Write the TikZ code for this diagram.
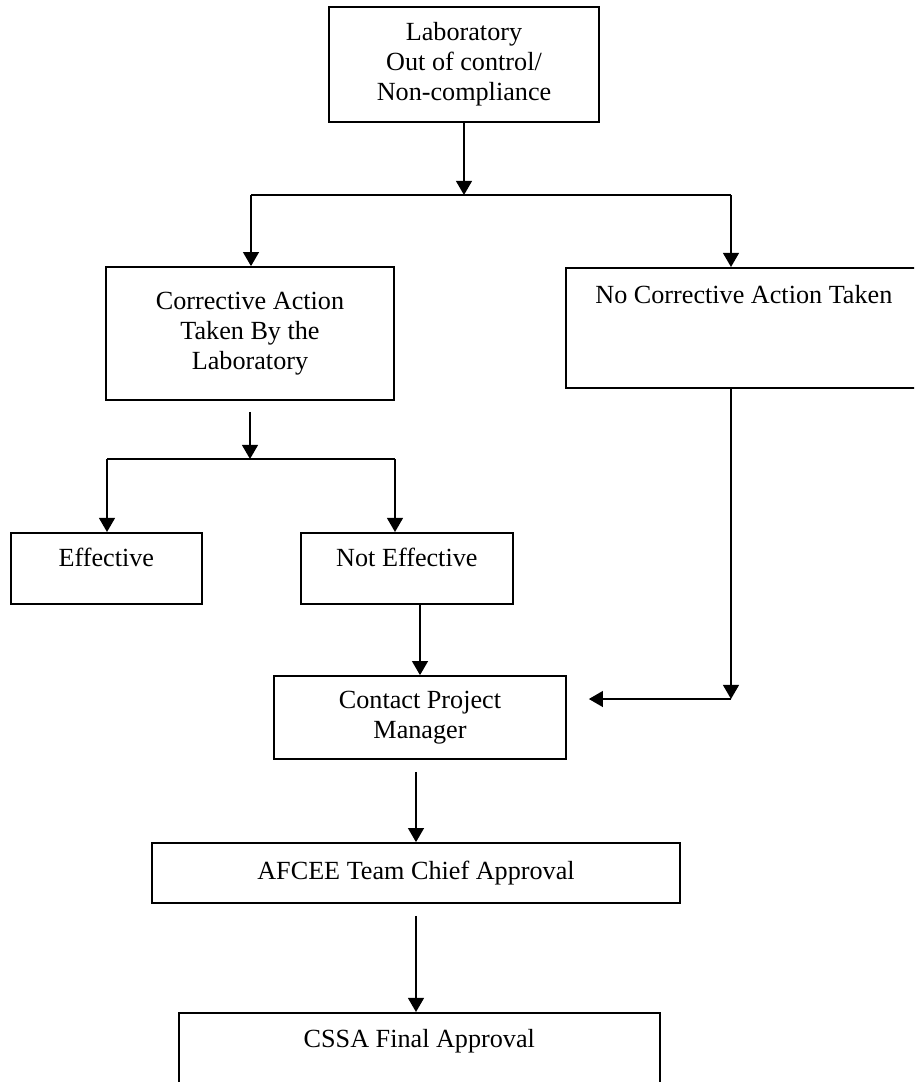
\documentclass[tikz,border=0pt]{standalone}
\usepackage{fontspec}
\setmainfont{Liberation Serif}
\usepackage{tikz}
\usetikzlibrary{positioning}
\usetikzlibrary{arrows.meta}

\begin{document}
\begin{tikzpicture}[
  x=0.02cm, y=-0.02cm,
  stepbox/.style={rectangle, draw, line width=1pt, align=center, inner sep=0pt, font=\fontsize{14.9}{17}\selectfont},
  topbox/.style={stepbox, anchor=north west, minimum height=0pt},
  arr/.style={-{Triangle[length=8pt, width=9pt]}, line width=1pt}
]
\useasboundingbox (0,0) rectangle (914,1082);
\clip (0,0) rectangle (914,1082);

% Boxes
\node[stepbox, minimum width=5.4cm, minimum height=2.3cm] (lab) at (464,64.5) {Laboratory\\Out of control/\\Non-compliance};

\node[stepbox, minimum width=5.76cm, minimum height=2.66cm] (corr) at (250,333.5) {Corrective Action\\Taken By the\\Laboratory};

\node[topbox, minimum width=7.12cm, text height=0.72cm, text depth=1.68cm] (nocorr) at (565,267) {No Corrective Action Taken};

\node[topbox, minimum width=3.82cm, text height=0.68cm, text depth=0.74cm] (eff) at (10,532) {Effective};

\node[topbox, minimum width=4.24cm, text height=0.68cm, text depth=0.74cm] (neff) at (300,532) {Not Effective};

\node[stepbox, minimum width=5.84cm, minimum height=1.66cm] (contact) at (420,717.5) {Contact Project\\Manager};

\node[stepbox, minimum width=10.56cm, minimum height=1.2cm] (afcee) at (416,873) {AFCEE Team Chief Approval};

\node[topbox, minimum width=9.62cm, text height=0.7cm, text depth=1.6cm] (cssa) at (178,1012) {CSSA Final Approval};

% Branch points
\coordinate (forkL) at (251,195);
\coordinate (forkR) at (731,195);
\coordinate (subL) at (107,459);
\coordinate (subR) at (395,459);
\coordinate (joinR) at (731,699);

% Arrows
\draw[arr] (lab.south) -- (lab.south |- forkL);
\draw[line width=1pt] (forkL) -- (forkR);
\draw[arr] (forkL) -- (forkL |- corr.north);
\draw[arr] (forkR) -- (forkR |- nocorr.north);

\draw[arr, shorten <=0.22cm] (corr.south) -- (corr.south |- subL);
\draw[line width=1pt] (subL) -- (subR);
\draw[arr] (subL) -- (subL |- eff.north);
\draw[arr] (subR) -- (subR |- neff.north);

\draw[arr] (contact.north |- neff.south) -- (contact.north);
\draw[arr] (forkR |- nocorr.south) -- (joinR);
\draw[arr, shorten >=0.44cm] (joinR) -- (joinR -| contact.east);

\draw[arr, shorten <=0.24cm] (afcee.north |- contact.south) -- (afcee.north);
\draw[arr, shorten <=0.24cm] (afcee.south) -- (afcee.south |- cssa.north);

\end{tikzpicture}
\end{document}
